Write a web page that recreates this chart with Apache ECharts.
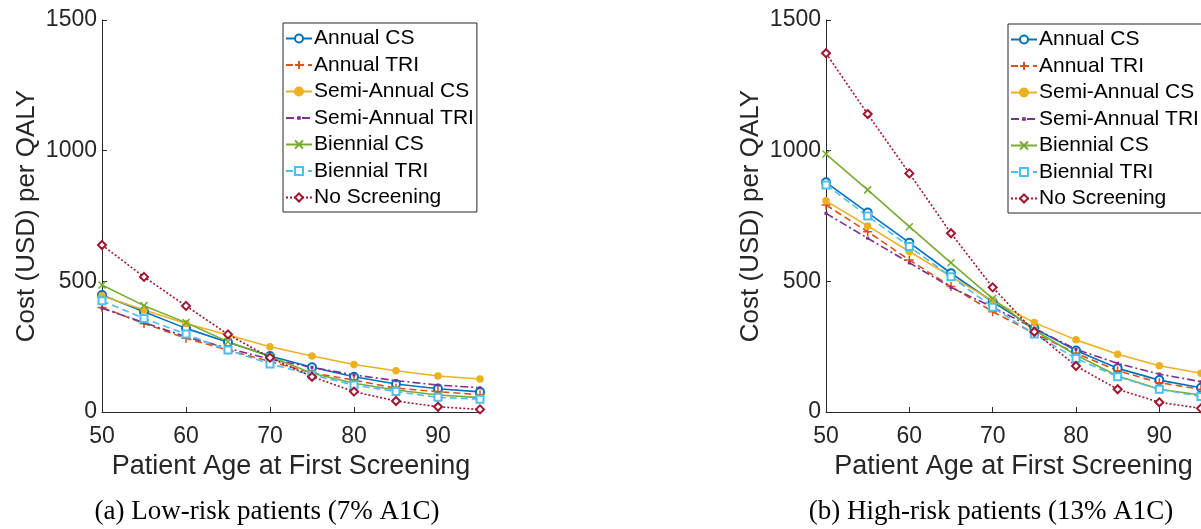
<!DOCTYPE html>
<html><head><meta charset="utf-8">
<script src="https://cdn.jsdelivr.net/npm/echarts@6/dist/echarts.min.js"></script>
<style>html,body{margin:0;padding:0;background:#fff}#c{width:1201px;height:529px}</style>
</head><body><div id="c"></div>
<script>
const ages = [50, 55, 60, 65, 70, 75, 80, 85, 90, 95];
const seriesNames = ['Annual CS', 'Annual TRI', 'Semi-Annual CS', 'Semi-Annual TRI', 'Biennial CS', 'Biennial TRI', 'No Screening'];
// Low-risk patients (7% A1C)
const lowAnnualCS     = [448, 384, 320, 267, 214, 171, 135, 107, 89, 77];
const lowAnnualTRI    = [400, 339, 282, 237, 193, 150, 122, 91, 78, 66];
const lowSemiCS       = [445, 390, 339, 295, 250, 214, 182, 158, 138, 126];
const lowSemiTRI      = [397, 342, 288, 244, 202, 171, 142, 120, 103, 93];
const lowBiennialCS   = [486, 407, 342, 269, 212, 148, 110, 84, 65, 55];
const lowBiennialTRI  = [426, 358, 298, 237, 184, 142, 103, 78, 56, 49];
const lowNoScreening  = [639, 517, 406, 297, 208, 135, 78, 42, 20, 10];
// High-risk patients (13% A1C)
const highAnnualCS    = [879, 763, 648, 531, 422, 320, 235, 167, 122, 93];
const highAnnualTRI   = [792, 690, 582, 480, 384, 301, 225, 158, 112, 87];
const highSemiCS      = [808, 712, 614, 518, 426, 342, 276, 221, 177, 148];
const highSemiTRI     = [760, 665, 571, 477, 401, 320, 240, 186, 145, 116];
const highBiennialCS  = [987, 850, 709, 571, 434, 314, 218, 138, 87, 65];
const highBiennialTRI = [869, 750, 633, 518, 401, 298, 205, 135, 87, 59];
const highNoScreening = [1373, 1140, 913, 684, 477, 307, 176, 87, 37, 14];
const yTicks = [0, 500, 1000, 1500];
const xTicks = [50, 60, 70, 80, 90];
const captions = ['(a) Low-risk patients (7% A1C)', '(b) High-risk patients (13% A1C)'];

const lowData = [lowAnnualCS, lowAnnualTRI, lowSemiCS, lowSemiTRI, lowBiennialCS, lowBiennialTRI, lowNoScreening];
const highData = [highAnnualCS, highAnnualTRI, highSemiCS, highSemiTRI, highBiennialCS, highBiennialTRI, highNoScreening];

const colors = ['#0072BD', '#D95319', '#EDB120', '#7E2F8E', '#77AC30', '#4DBEEE', '#A2142F'];
const dashes = ['solid', [7, 4], 'solid', [8, 3, 2, 3], 'solid', [7, 4], [2, 2]];
const plusPath = 'path://M5,0 L5,10 M0,5 L10,5';
const crossPath = 'path://M0,0 L10,10 M0,10 L10,0';
const dotPath = 'path://M0,0 M10,10 M4,4 L6,4 L6,6 L4,6 Z';
const symbols = ['emptyCircle', plusPath, 'circle', dotPath, crossPath, 'emptyRect', 'emptyDiamond'];
const symSizes = [8, 9, 6, 8, 7, 7, 8];

const FONT = '"Liberation Sans", Arial, Helvetica, sans-serif';
const TXT = '#262626';

function makeSeries(data, gi) {
  return data.map((vals, i) => ({
    name: seriesNames[i],
    type: 'line',
    xAxisIndex: gi, yAxisIndex: gi,
    data: ages.map((a, k) => [a, vals[k]]),
    symbol: symbols[i],
    symbolSize: symSizes[i],
    lineStyle: { color: colors[i], width: 1.6, type: dashes[i] },
    itemStyle: { color: colors[i], borderColor: colors[i], borderWidth: 1.5 },
    emphasis: { disabled: true },
    animation: false
  }));
}

function xAx(gi) {
  return {
    type: 'value', gridIndex: gi, min: 50, max: 95, interval: 10,
    name: 'Patient Age at First Screening', nameLocation: 'middle', nameGap: 41,
    nameTextStyle: { fontFamily: FONT, fontSize: 27, color: TXT },
    axisLine: { lineStyle: { color: TXT, width: 1 } },
    axisTick: { inside: true, length: 5, lineStyle: { color: TXT } },
    axisLabel: { fontFamily: FONT, fontSize: 23, color: TXT, margin: 13, showMaxLabel: false },
    splitLine: { show: false }
  };
}
function yAx(gi) {
  return {
    type: 'value', gridIndex: gi, min: 0, max: 1500, interval: 500,
    name: 'Cost (USD) per QALY', nameLocation: 'middle', nameGap: 62, nameRotate: 90,
    nameTextStyle: { fontFamily: FONT, fontSize: 26, color: TXT },
    axisLine: { show: true, lineStyle: { color: TXT, width: 1 } },
    axisTick: { show: true, inside: true, length: 5, lineStyle: { color: TXT } },
    axisLabel: { fontFamily: FONT, fontSize: 23, color: TXT, margin: 5, formatter: v => String(v) },
    splitLine: { show: false }
  };
}
function legend(left, top) {
  return {
    orient: 'vertical', left: left, top: top,
    data: seriesNames,
    itemWidth: 26, itemHeight: 10, itemGap: 5.5,
    padding: [5, 3, 4, 2],
    borderColor: TXT, borderWidth: 1, backgroundColor: '#fff',
    textStyle: { fontFamily: FONT, fontSize: 21, color: '#000', padding: [0, 0, 0, -3] },
    selectedMode: false
  };
}

const chart = echarts.init(document.getElementById('c'), null, { renderer: 'canvas' });
chart.setOption({
  backgroundColor: '#fff',
  animation: false,
  grid: [
    { left: 102, top: 20, width: 378, height: 392 },
    { left: 826, top: 20, width: 378, height: 392 }
  ],
  xAxis: [xAx(0), xAx(1)],
  yAxis: [yAx(0), yAx(1)],
  legend: [legend(283, 23), legend(1008, 24)],
  series: makeSeries(lowData, 0).concat(makeSeries(highData, 1)),
  graphic: [
    { type: 'text', x: 267, y: 512, style: { text: captions[0], font: '27px "Liberation Serif", "Times New Roman", serif', fill: '#000', textAlign: 'center', textVerticalAlign: 'middle' } },
    { type: 'text', x: 991, y: 512, style: { text: captions[1], font: '27px "Liberation Serif", "Times New Roman", serif', fill: '#000', textAlign: 'center', textVerticalAlign: 'middle' } }
  ]
});
</script></body></html>
